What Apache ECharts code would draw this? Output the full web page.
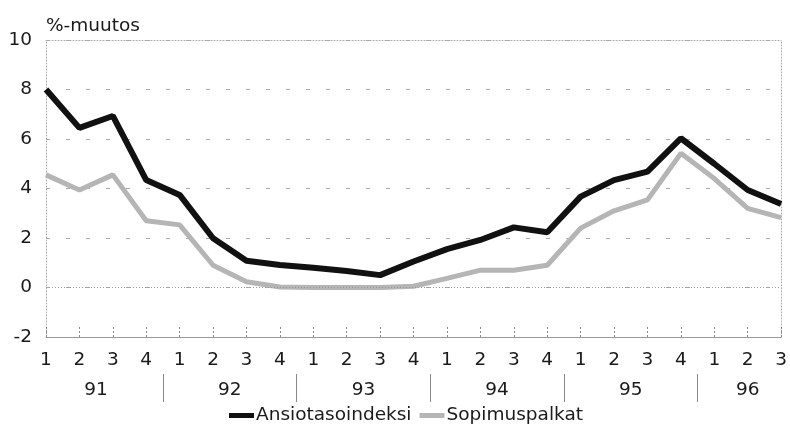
<!DOCTYPE html>
<html><head><meta charset="utf-8">
<script src="https://cdn.jsdelivr.net/npm/echarts@6/dist/echarts.min.js"></script>
<style>html,body{margin:0;padding:0;background:#fff}#c{width:790px;height:430px}</style>
</head><body><div id="c"></div>
<script>
const quarters = ['1','2','3','4','1','2','3','4','1','2','3','4','1','2','3','4','1','2','3','4','1','2','3'];
const years = ['91','92','93','94','95','96'];
const ansiotasoindeksi = [8.0,6.45,6.93,4.34, 3.74,1.99,1.08,0.91, 0.8,0.67,0.5,1.05, 1.55,1.92,2.43,2.23, 3.67,4.34,4.68,6.03, 5.0,3.94,3.37];
const sopimuspalkat = [4.55,3.94,4.55,2.7, 2.53,0.9,0.23,0.02, 0,0,0,0.05, 0.37,0.7,0.7,0.9, 2.4,3.1,3.54,5.42, 4.4,3.2,2.82];
const yTicks = [-2,0,2,4,6,8,10];

// half-step slots for year axis
const n = quarters.length;
const slots = [];
for (let i = 0; i <= (n - 1) * 2; i++) slots.push('');
const labelSlots = {};
const sepSlots = new Set();
years.forEach((y, k) => {
  const first = 4 * k, last = Math.min(4 * k + 3, n - 1);
  const s = first + last; // center*2
  slots[s] = y;
  labelSlots[s] = true;
  if (k > 0) sepSlots.add(first * 2 - 1);
});

const font = 'DejaVu Sans, Verdana, sans-serif';
const fs = 18.5;
const chart = echarts.init(document.getElementById('c'));
chart.setOption({
  animation: false,
  textStyle: { fontFamily: font },
  title: { text: '%-muutos', left: 41, top: 12, textStyle: { fontFamily: font, fontSize: fs, fontWeight: 'normal', color: '#1a1a1a' } },
  grid: { left: 46, right: 6, top: 40, bottom: 93 },
  legend: {
    bottom: 0, left: 224, itemWidth: 25, itemHeight: 5, itemGap: 8,
    icon: 'rect',
    textStyle: { fontFamily: font, fontSize: fs, color: '#1a1a1a', padding: [0, 0, 0, -3] },
    data: ['Ansiotasoindeksi', 'Sopimuspalkat']
  },
  xAxis: [
    {
      type: 'category', data: quarters, boundaryGap: false,
      axisLine: { onZero: false, lineStyle: { color: '#999', width: 1 } },
      axisTick: { inside: true, length: 10, lineStyle: { color: '#888', type: [2, 2] } },
      axisLabel: { fontSize: fs, color: '#1a1a1a', margin: 14, fontFamily: font }
    },
    {
      type: 'category', data: slots, boundaryGap: false, position: 'bottom', offset: 37,
      axisLine: { show: false, onZero: false },
      axisTick: { show: true, inside: false, length: 28, interval: (i) => sepSlots.has(i), lineStyle: { color: '#888' } },
      axisLabel: { fontSize: fs, color: '#1a1a1a', margin: 7, interval: (i) => !!labelSlots[i], fontFamily: font }
    },
    {
      type: 'category', data: quarters, boundaryGap: false, position: 'top',
      axisLine: { onZero: false, lineStyle: { color: '#aaa', type: [1, 2] } },
      axisTick: { show: false }, axisLabel: { show: false }
    }
  ],
  yAxis: [
    {
      type: 'value', min: yTicks[0], max: yTicks[yTicks.length - 1], interval: 2,
      axisLine: { show: true, onZero: false, lineStyle: { color: '#aaa', type: [1, 2] } },
      axisTick: { show: false },
      axisLabel: { fontSize: fs, color: '#1a1a1a', margin: 14, fontFamily: font },
      splitLine: { show: true, lineStyle: { color: '#aaa', type: [4, 16] } }
    },
    {
      type: 'value', min: yTicks[0], max: yTicks[yTicks.length - 1], interval: 2, position: 'right',
      axisLine: { show: true, onZero: false, lineStyle: { color: '#aaa', type: [1, 2] } },
      axisTick: { show: false }, axisLabel: { show: false }, splitLine: { show: false }
    }
  ],
  series: [
    {
      name: 'Sopimuspalkat', type: 'line', data: sopimuspalkat, showSymbol: false, symbol: 'none',
      itemStyle: { color: '#b5b5b5' },
      lineStyle: { color: '#b5b5b5', width: 5 },
      markLine: { silent: true, symbol: 'none', label: { show: false },
        lineStyle: { color: '#999', type: [1, 2], width: 1 }, data: [{ yAxis: 0 }] }
    },
    {
      name: 'Ansiotasoindeksi', type: 'line', data: ansiotasoindeksi, showSymbol: false, symbol: 'none',
      itemStyle: { color: '#111' },
      lineStyle: { color: '#111', width: 6 }
    }
  ]
});
</script></body></html>
